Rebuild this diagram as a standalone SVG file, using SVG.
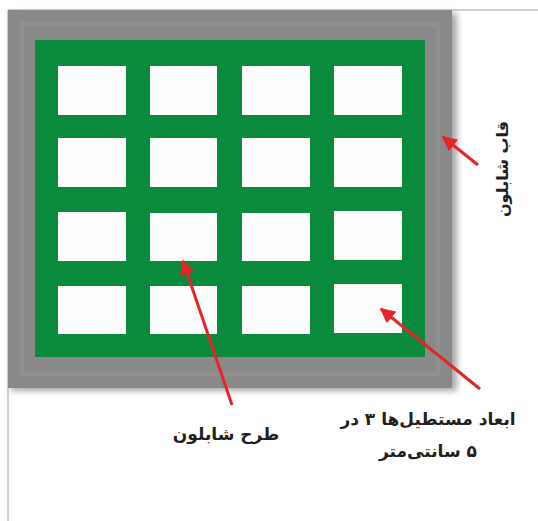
<svg xmlns="http://www.w3.org/2000/svg" width="538" height="521" viewBox="0 0 538 521">
<style>
.cell{fill:#fdfefd;}
.lbl{font-family:"DejaVu Sans",sans-serif;font-weight:bold;fill:#231f20;}
.arr{stroke:#e5252a;stroke-width:3;fill:none;marker-end:url(#ah);}
</style>
<defs>
<marker id="ah" viewBox="0 0 10 10" refX="9" refY="5" markerWidth="5" markerHeight="5" orient="auto" markerUnits="strokeWidth">
<path d="M0,0 L10,5 L0,10 z" fill="#e5252a"/>
</marker>
<filter id="sh" x="-5%" y="-5%" width="112%" height="112%">
<feGaussianBlur stdDeviation="3"/>
</filter>
</defs>
<rect width="538" height="521" fill="#ffffff"/>
<line x1="8" y1="10" x2="538" y2="10" stroke="#a0a0a0" stroke-width="1"/>
<line x1="8" y1="10" x2="8" y2="521" stroke="#a0a0a0" stroke-width="1"/>
<g id="frame">
<rect x="11" y="13" width="446" height="378" fill="#a8a8a8" filter="url(#sh)"/>
<rect x="8" y="10" width="444" height="378" fill="#898989"/>
<rect x="22" y="24" width="416" height="350" fill="none" stroke="#8f8f8f" stroke-width="5"/>
</g>
<g id="panel">
<rect x="35" y="40" width="390" height="317" fill="#0a8a3d"/>
</g>
<g id="cells">
<rect class="cell" x="58" y="66" width="68" height="49"/>
<rect class="cell" x="150" y="66" width="67" height="49"/>
<rect class="cell" x="242" y="66" width="68" height="49"/>
<rect class="cell" x="334" y="66" width="68" height="49"/>
<rect class="cell" x="58" y="138" width="68" height="49"/>
<rect class="cell" x="150" y="138" width="67" height="49"/>
<rect class="cell" x="242" y="138" width="68" height="49"/>
<rect class="cell" x="334" y="138" width="68" height="49"/>
<rect class="cell" x="58" y="212" width="68" height="49"/>
<rect class="cell" x="150" y="213" width="67" height="48"/>
<rect class="cell" x="242" y="213" width="68" height="48"/>
<rect class="cell" x="334" y="211" width="68" height="49"/>
<rect class="cell" x="58" y="286" width="68" height="48"/>
<rect class="cell" x="150" y="286" width="67" height="48"/>
<rect class="cell" x="242" y="286" width="68" height="48"/>
<rect class="cell" x="334" y="284" width="68" height="49"/>
</g>
<g id="connectors">
<line class="arr" x1="478" y1="165" x2="443" y2="137"/>
<line class="arr" x1="232" y1="405" x2="183" y2="261"/>
<line class="arr" x1="480" y1="389" x2="381" y2="309"/>
</g>
<g id="label-frame">
<text class="lbl" x="508" y="169" font-size="16" text-anchor="middle" transform="rotate(-90 508 169)" direction="rtl">قاب شابلون</text>
</g>
<g id="label-design">
<text class="lbl" x="226" y="440" font-size="17" text-anchor="middle" direction="rtl">طرح شابلون</text>
</g>
<g id="label-dims">
<text class="lbl" x="428" y="425" font-size="17" text-anchor="middle" direction="rtl">ابعاد مستطیل‌ها ۳ در</text>
<text class="lbl" x="428" y="457" font-size="17" text-anchor="middle" direction="rtl">۵ سانتی‌متر</text>
</g>
</svg>
